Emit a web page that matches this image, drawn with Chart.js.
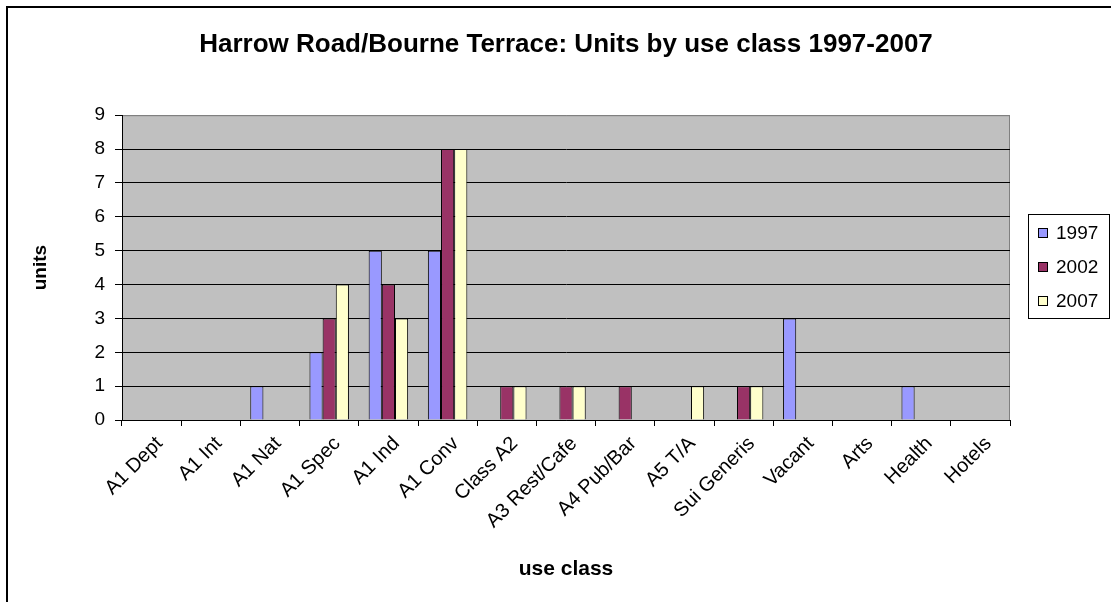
<!DOCTYPE html>
<html>
<head>
<meta charset="utf-8">
<script src="https://cdn.jsdelivr.net/npm/chart.js@4/dist/chart.umd.min.js"></script>
<style>
  body { margin: 0; background: #fff; }
  #wrap { position: relative; width: 1111px; height: 602px; overflow: hidden; }
  #frame { position: absolute; left: 6px; top: 6px; width: 1200px; height: 700px;
           border-left: 2px solid #000; border-top: 2px solid #000; }
</style>
</head>
<body>
<div id="wrap">
  <div id="frame"></div>
  <canvas id="mycanvas" width="1111" height="602" style="position:absolute;left:0;top:0"></canvas>
</div>
<script>
var useClasses = ["A1 Dept", "A1 Int", "A1 Nat", "A1 Spec", "A1 Ind", "A1 Conv", "Class A2",
    "A3 Rest/Cafe", "A4 Pub/Bar", "A5 T/A", "Sui Generis", "Vacant", "Arts", "Health", "Hotels"];
var units1997 = [0, 0, 1, 2, 5, 5, 0, 0, 0, 0, 0, 3, 0, 1, 0];
var units2002 = [0, 0, 0, 3, 4, 8, 1, 1, 1, 0, 1, 0, 0, 0, 0];
var units2007 = [0, 0, 0, 4, 3, 8, 1, 1, 0, 1, 1, 0, 0, 0, 0];
var yearLabels = ["1997", "2002", "2007"];
var yearColors = ["#9999FF", "#993366", "#FFFFCC"];

var fontFam = "Arial, 'Liberation Sans', sans-serif";

// grey plot area behind the bars
var plotBg = {
    id: "plotBg",
    beforeDraw: function (chart) {
        var a = chart.chartArea, ctx = chart.ctx;
        ctx.save();
        ctx.fillStyle = "#C0C0C0";
        ctx.fillRect(a.left, a.top, a.right - a.left, a.bottom - a.top);
        ctx.strokeStyle = "#808080";
        ctx.lineWidth = 1;
        ctx.beginPath();
        ctx.moveTo(a.left, a.top + 0.5);
        ctx.lineTo(a.right - 0.5, a.top + 0.5);
        ctx.lineTo(a.right - 0.5, a.bottom);
        ctx.stroke();
        ctx.restore();
    }
};

// boxed legend on the right, like the spreadsheet one
var boxLegend = {
    id: "boxLegend",
    afterDraw: function (chart) {
        var ctx = chart.ctx;
        var x = 1028, y = 214, w = 81, h = 104;
        ctx.save();
        ctx.strokeStyle = "#000";
        ctx.lineWidth = 1;
        ctx.strokeRect(x + 0.5, y + 0.5, w, h);
        ctx.font = "19px " + fontFam;
        ctx.textBaseline = "middle";
        ctx.fillStyle = "#000";
        chart.data.datasets.forEach(function (ds, i) {
            var cy = y + 19 + i * 34;
            ctx.fillStyle = ds.backgroundColor;
            ctx.fillRect(x + 10, cy - 4, 9, 9);
            ctx.strokeStyle = "#000";
            ctx.strokeRect(x + 10.5, cy - 4.5, 9, 9);
            ctx.fillStyle = "#000";
            ctx.fillText(ds.label, x + 28, cy + 1);
        });
        ctx.restore();
    }
};

var ctx = document.getElementById("mycanvas");

var barGraph = new Chart(ctx, {
    type: "bar",
    data: {
        labels: useClasses,
        datasets: [{
            label: yearLabels[0],
            backgroundColor: yearColors[0],
            data: units1997
        }, {
            label: yearLabels[1],
            backgroundColor: yearColors[1],
            data: units2002
        }, {
            label: yearLabels[2],
            backgroundColor: yearColors[2],
            data: units2007
        }]
    },
    options: {
        responsive: false,
        animation: false,
        layout: { padding: { left: 8, right: 101, top: 0, bottom: 0 } },
        datasets: {
            bar: {
                borderColor: "#000",
                borderWidth: 1,
                categoryPercentage: 3 / 4.5,
                barPercentage: 1
            }
        },
        plugins: {
            legend: { display: false },
            tooltip: { enabled: false },
            title: {
                display: true,
                fullSize: false,
                text: "Harrow Road/Bourne Terrace: Units by use class 1997-2007",
                color: "#000",
                font: { family: fontFam, size: 26, weight: "bold" },
                padding: { top: 29, bottom: 55 }
            }
        },
        scales: {
            x: {
                offset: true,
                grid: { offset: true, drawOnChartArea: false, color: "#000", tickLength: 6 },
                border: { color: "#000", width: 1 },
                ticks: {
                    color: "#000",
                    font: { family: fontFam, size: 20 },
                    minRotation: 45,
                    maxRotation: 45,
                    autoSkip: false,
                    labelOffset: 8,
                    padding: 6
                },
                title: {
                    display: true,
                    text: "use class",
                    color: "#000",
                    font: { family: fontFam, size: 21, weight: "bold" },
                    padding: { top: 0, bottom: 20 }
                },
                afterFit: function (scale) { scale.height = 182; }
            },
            y: {
                min: 0,
                max: 9,
                ticks: {
                    stepSize: 1,
                    color: "#000",
                    font: { family: fontFam, size: 19 },
                    padding: 10
                },
                grid: {
                    color: function (c) { return c.tick && c.tick.value === 9 ? "#808080" : "#000"; },
                    tickColor: "#000",
                    tickLength: 7
                },
                border: { color: "#000", width: 1 },
                title: {
                    display: true,
                    text: "units",
                    color: "#000",
                    font: { family: fontFam, size: 19, weight: "bold" },
                    padding: { top: 21, bottom: 0 }
                },
                afterFit: function (scale) { scale.width = 114; }
            }
        }
    },
    plugins: [plotBg, boxLegend]
});
</script>
</body>
</html>
